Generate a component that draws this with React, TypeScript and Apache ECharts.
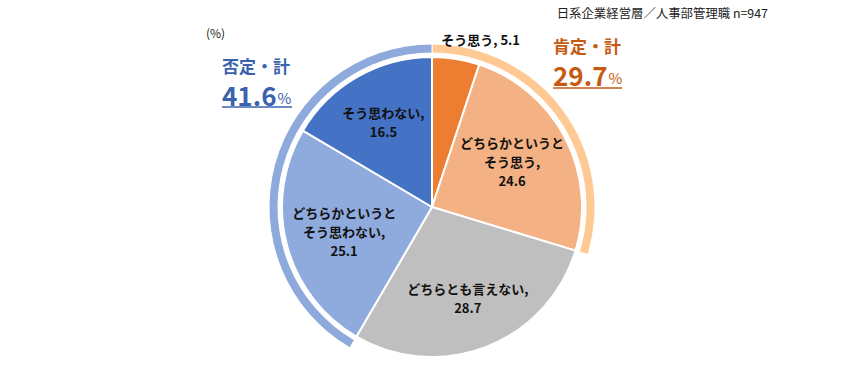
import React, { useEffect, useRef } from "react";
import * as echarts from "echarts";

const categories = [
  "そう思う",
  "どちらかというと\nそう思う",
  "どちらとも言えない",
  "どちらかというと\nそう思わない",
  "そう思わない",
];
const values = [5.1, 24.6, 28.7, 25.1, 16.5];
const sliceColors = ["#ED7D31", "#F4B183", "#BFBFBF", "#8FAADC", "#4472C4"];
const subtitle = "日系企業経営層／人事部管理職 n=947";
const unitLabel = "(%)";
const positiveTitle = "肯定・計";
const negativeTitle = "否定・計";

export default function App() {
  const ref = useRef<HTMLDivElement>(null);
  useEffect(() => {
    if (!ref.current) return;
    const chart = echarts.init(ref.current, null, { renderer: "svg" });
    const positive = values[0] + values[1];
    const neutral = values[2];
    const negative = values[3] + values[4];
    const font = "'Noto Sans CJK JP', 'Noto Sans', sans-serif";
    const cx = 432;
    const cy = 207;
    const blue = "#3A62AE";
    const orange = "#C55A11";

    chart.setOption({
      animation: false,
      backgroundColor: "#fff",
      series: [
        {
          type: "pie",
          center: [cx, cy],
          radius: [0, 150],
          startAngle: 90,
          clockwise: true,
          silent: true,
          label: { show: false },
          labelLine: { show: false },
          itemStyle: { borderColor: "#fff", borderWidth: 2 },
          data: categories.map((c, i) => ({
            name: c,
            value: values[i],
            itemStyle: { color: sliceColors[i] },
          })),
        },
        {
          type: "pie",
          center: [cx, cy],
          radius: [40, 150],
          startAngle: 90,
          clockwise: true,
          silent: true,
          itemStyle: { color: "rgba(0,0,0,0)" },
          labelLine: { show: false },
          label: {
            show: true,
            position: "inside",
            fontFamily: font,
            fontWeight: "bold",
            fontSize: 13,
            lineHeight: 19,
            color: "#111",
            formatter: (p: any) =>
              p.dataIndex === 0
                ? `${p.name}, ${p.value}`
                : `${p.name},\n${p.value}`,
          },
          labelLayout: (p: any) => {
            if (p.dataIndex === 0) return { dx: 33, dy: -71 };
            if (p.dataIndex === 1) return { dx: -7, dy: 0 };
            if (p.dataIndex === 3) return { dx: 7, dy: 0 };
            return {};
          },
          data: categories.map((c, i) => ({ name: c, value: values[i] })),
        },
        {
          type: "pie",
          center: [cx, cy],
          radius: [154, 163],
          startAngle: 90,
          clockwise: true,
          silent: true,
          label: { show: false },
          labelLine: { show: false },
          itemStyle: { borderColor: "#fff", borderWidth: 1 },
          data: [
            { name: "pos", value: positive, itemStyle: { color: "#FFC993" } },
            {
              name: "neu",
              value: neutral,
              itemStyle: { color: "rgba(0,0,0,0)", borderWidth: 0 },
            },
            { name: "neg", value: negative, itemStyle: { color: "#8EA9DB" } },
          ],
        },
      ],
      graphic: [
        {
          type: "text",
          right: 97,
          top: 7,
          style: {
            text: subtitle,
            font: `12.4px ${font}`,
            fill: "#222",
          },
        },
        {
          type: "text",
          left: 206,
          top: 26,
          style: { text: unitLabel, font: `12px ${font}`, fill: "#222" },
        },
        {
          type: "text",
          left: 222,
          top: 57,
          style: {
            text: negativeTitle,
            font: `bold 17px ${font}`,
            fill: blue,
          },
        },
        {
          type: "text",
          left: 222,
          top: 81,
          style: {
            text: `{n|${negative.toFixed(1)}}{p|%}`,
            rich: {
              n: {
                fontFamily: font,
                fontWeight: "bold",
                fontSize: 26,
                fill: blue,
                color: blue,
              },
              p: {
                fontFamily: font,
                fontSize: 15,
                fill: blue,
                color: blue,
                padding: [6, 0, 0, 1],
              },
            },
          },
        },
        {
          type: "line",
          shape: { x1: 222, y1: 107, x2: 292, y2: 107 },
          style: { stroke: blue, lineWidth: 1.5 },
        },
        {
          type: "text",
          left: 553,
          top: 37,
          style: {
            text: positiveTitle,
            font: `bold 17px ${font}`,
            fill: orange,
          },
        },
        {
          type: "text",
          left: 553,
          top: 61,
          style: {
            text: `{n|${positive.toFixed(1)}}{p|%}`,
            rich: {
              n: {
                fontFamily: font,
                fontWeight: "bold",
                fontSize: 26,
                fill: orange,
                color: orange,
              },
              p: {
                fontFamily: font,
                fontSize: 15,
                fill: orange,
                color: orange,
                padding: [6, 0, 0, 1],
              },
            },
          },
        },
        {
          type: "line",
          shape: { x1: 553, y1: 88, x2: 622, y2: 88 },
          style: { stroke: orange, lineWidth: 1.5 },
        },
      ],
    });
    return () => chart.dispose();
  }, []);
  return (
    <div
      ref={ref}
      style={{ position: "fixed", left: 0, top: 0, width: 865, height: 380 }}
    />
  );
}
